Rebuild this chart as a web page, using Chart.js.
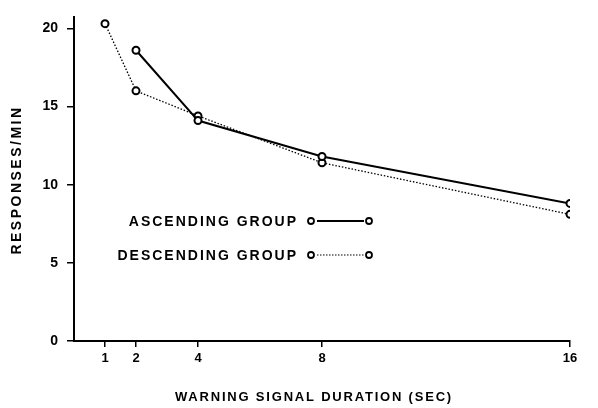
<!DOCTYPE html>
<html>
<head>
<meta charset="utf-8">
<script src="https://cdn.jsdelivr.net/npm/chart.js@4"></script>
<style>
  html, body { margin: 0; padding: 0; background: #fff; }
  #wrap { width: 598px; height: 408px; }
</style>
</head>
<body>
<div id="wrap"><canvas id="myChart" width="598" height="408"></canvas></div>
<script>
// valores
var duracion = [1, 2, 4, 8, 16];           // segundos
var ascendente = [null, 18.6, 14.1, 11.8, 8.8];
var descendente = [20.3, 16.0, 14.4, 11.4, 8.1];
var ticksX = [1, 2, 4, 8, 16];
var ticksY = [0, 5, 10, 15, 20];
var etiquetas = ["ASCENDING GROUP", "DESCENDING GROUP"];
var tituloX = "WARNING SIGNAL DURATION (SEC)";
var tituloY = "RESPONSES/MIN";

var fuente = "'Liberation Sans', Arial, sans-serif";

function puntos(serie) {
    var out = [];
    for (var i = 0; i < duracion.length; i++) {
        if (serie[i] != null) out.push({ x: duracion[i], y: serie[i] });
    }
    return out;
}

// titulos y leyenda dibujados a mano (letras espaciadas)
var extras = {
    id: 'extras',
    afterDraw: function(chart) {
        var ctx = chart.ctx;
        ctx.save();
        ctx.fillStyle = '#000';
        ctx.font = "bold 13px " + fuente;
        ctx.letterSpacing = "1.8px";
        ctx.textAlign = 'center';
        ctx.textBaseline = 'middle';
        ctx.fillText(tituloX, 314, 397);

        ctx.save();
        ctx.translate(17, 180);
        ctx.rotate(-Math.PI / 2);
        ctx.font = "bold 14px " + fuente;
        ctx.letterSpacing = "2.5px";
        ctx.fillText(tituloY, 0, 0);
        ctx.restore();

        // leyenda
        ctx.font = "bold 14px " + fuente;
        ctx.letterSpacing = "2px";
        ctx.textAlign = 'right';
        var filas = [221, 255];
        for (var i = 0; i < etiquetas.length; i++) {
            var y = filas[i];
            ctx.fillText(etiquetas[i], 298, y + 1);
            ctx.strokeStyle = '#000';
            ctx.lineWidth = i == 0 ? 1.8 : 1.2;
            ctx.setLineDash(i == 0 ? [] : [1.5, 1.5]);
            ctx.beginPath();
            ctx.moveTo(317, y);
            ctx.lineTo(364, y);
            ctx.stroke();
            ctx.setLineDash([]);
            ctx.lineWidth = 1.8;
            [311, 369].forEach(function(cx) {
                ctx.beginPath();
                ctx.arc(cx, y, 3, 0, Math.PI * 2);
                ctx.fillStyle = '#fff';
                ctx.fill();
                ctx.stroke();
            });
            ctx.fillStyle = '#000';
        }
        ctx.restore();
    }
};

var ctx = document.getElementById("myChart");
var myChart = new Chart(ctx, {
    type: 'line',
    data: {
        datasets: [
            {
                label: etiquetas[0],
                data: puntos(ascendente),
                borderColor: '#000',
                borderWidth: 2,
                pointRadius: 3.5,
                pointBorderWidth: 2,
                pointBackgroundColor: '#fff',
                pointBorderColor: '#000',
                tension: 0
            },
            {
                label: etiquetas[1],
                data: puntos(descendente),
                borderColor: '#000',
                borderWidth: 1.3,
                borderDash: [1.5, 1.8],
                pointRadius: 3.5,
                pointBorderWidth: 2,
                pointBackgroundColor: '#fff',
                pointBorderColor: '#000',
                tension: 0
            }
        ]
    },
    options: {
        responsive: false,
        animation: false,
        layout: { padding: { left: 0, top: 5, right: 28, bottom: 0 } },
        plugins: { legend: { display: false }, tooltip: { enabled: false } },
        scales: {
            x: {
                type: 'linear',
                min: 0,
                max: 16,
                afterBuildTicks: function(scale) {
                    scale.ticks = ticksX.map(function(v) { return { value: v }; });
                },
                afterFit: function(scale) { scale.height = 67; },
                grid: { drawOnChartArea: false, tickLength: 6, color: '#000', lineWidth: 1.5 },
                border: { display: true, color: '#000', width: 2 },
                ticks: { color: '#000', padding: 4, font: { family: fuente, size: 13, weight: 'bold' }, maxRotation: 0 }
            },
            y: {
                min: 0,
                max: 20.7,
                afterBuildTicks: function(scale) {
                    scale.ticks = ticksY.map(function(v) { return { value: v }; });
                },
                afterFit: function(scale) { scale.width = 74; },
                grid: { drawOnChartArea: false, tickLength: 7, color: '#000', lineWidth: 1.5 },
                border: { display: true, color: '#000', width: 2 },
                ticks: { color: '#000', padding: 9, font: { family: fuente, size: 14, weight: 'bold' } }
            }
        }
    },
    plugins: [extras]
});
</script>
</body>
</html>
